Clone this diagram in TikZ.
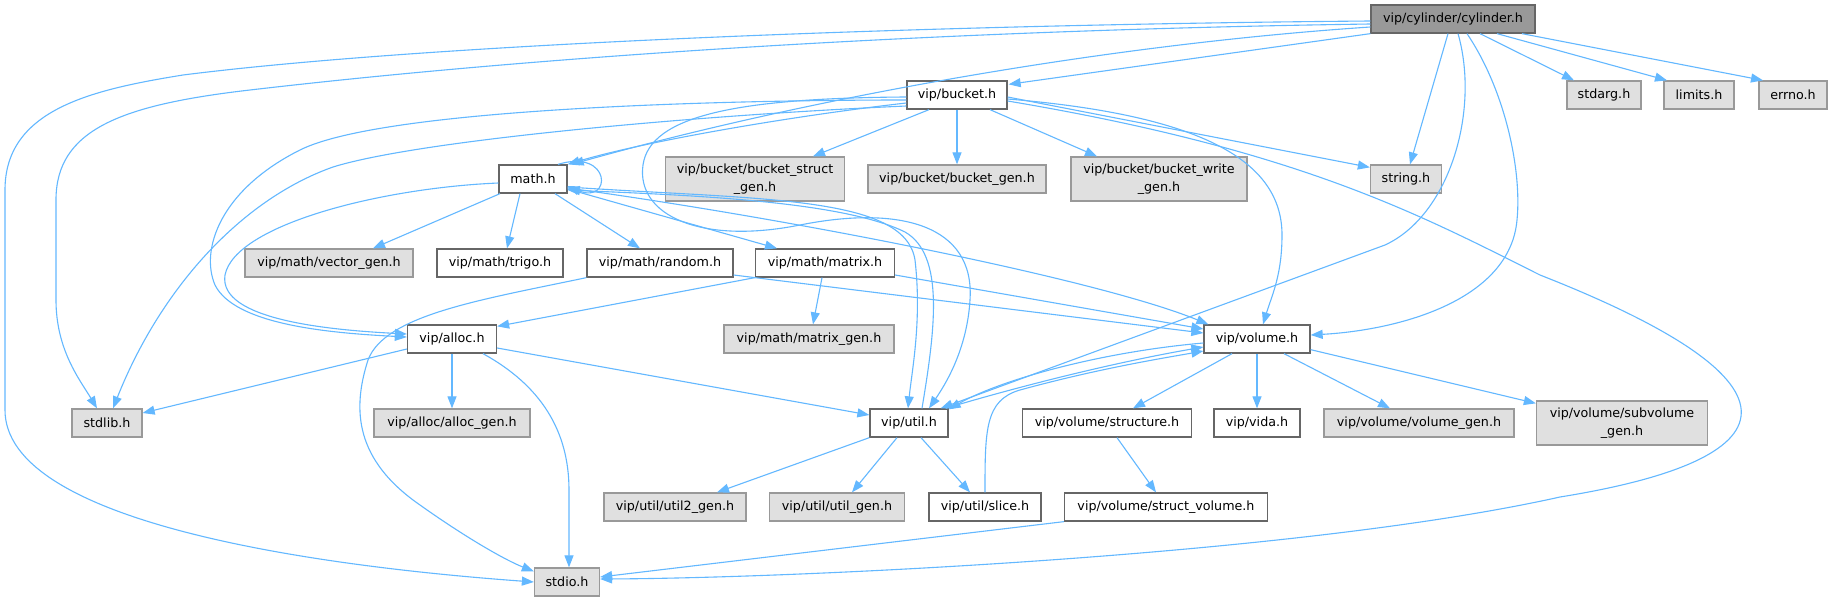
\documentclass[tikz,border=0pt]{standalone}
\usepackage{fontspec}
\setmainfont{DejaVu Sans}
\usetikzlibrary{arrows.meta}
\definecolor{edgecol}{HTML}{63B8FF}
\definecolor{bordA}{HTML}{666666}
\definecolor{bordB}{HTML}{999999}
\definecolor{fillB}{HTML}{E0E0E0}
\definecolor{fillR}{HTML}{999999}
\begin{document}
\begin{tikzpicture}[x=1pt,y=-1pt,
  box/.style={rectangle, inner sep=0pt, minimum height=28pt, line width=1.3pt, font=\fontsize{12.7}{17.5}\selectfont, align=center},
  wbox/.style={box, draw=bordA, fill=white},
  gbox/.style={box, draw=bordB, fill=fillB},
  rbox/.style={box, draw=bordA, fill=fillR},
  edge/.style={draw=edgecol, line width=1.1pt, -{Triangle[length=12pt,width=9pt]}}
]
\fill[white] (0,0) rectangle (1832,602);
\useasboundingbox (0,0) rectangle (1832,602);

\node[rbox, minimum width=164pt] (cyl) at (1453,19) {vip/cylinder/cylinder.h};
\node[wbox, minimum width=100pt] (bucket) at (957,95) {vip/bucket.h};
\node[gbox, minimum width=74pt] (stdarg) at (1604,95) {stdarg.h};
\node[gbox, minimum width=70pt] (limits) at (1699,95) {limits.h};
\node[gbox, minimum width=68pt] (errno) at (1793,95) {errno.h};
\node[wbox, minimum width=68pt] (math) at (533,179) {math.h};
\node[gbox, minimum width=179pt, minimum height=44pt] (bstruct) at (755,179) {vip/bucket/bucket\_struct\\\_gen.h};
\node[gbox, minimum width=178pt] (bgen) at (957,179) {vip/bucket/bucket\_gen.h};
\node[gbox, minimum width=176pt, minimum height=44pt] (bwrite) at (1159,179) {vip/bucket/bucket\_write\\\_gen.h};
\node[gbox, minimum width=71pt] (string) at (1406,179) {string.h};
\node[gbox, minimum width=168pt] (vecgen) at (329,263) {vip/math/vector\_gen.h};
\node[wbox, minimum width=126pt] (trigo) at (500,263) {vip/math/trigo.h};
\node[wbox, minimum width=146pt] (random) at (660,263) {vip/math/random.h};
\node[wbox, minimum width=139pt] (matrix) at (825,263) {vip/math/matrix.h};
\node[wbox, minimum width=89pt] (alloc) at (452,339) {vip/alloc.h};
\node[gbox, minimum width=170pt] (matgen) at (809,339) {vip/math/matrix\_gen.h};
\node[wbox, minimum width=106pt] (volume) at (1257,339) {vip/volume.h};
\node[gbox, minimum width=70pt] (stdlib) at (107,423) {stdlib.h};
\node[gbox, minimum width=156pt] (allocgen) at (452,423) {vip/alloc/alloc\_gen.h};
\node[wbox, minimum width=78pt] (util) at (909,423) {vip/util.h};
\node[wbox, minimum width=169pt] (structure) at (1107,423) {vip/volume/structure.h};
\node[wbox, minimum width=86pt] (vida) at (1257,423) {vip/vida.h};
\node[gbox, minimum width=190pt] (volgen) at (1419,423) {vip/volume/volume\_gen.h};
\node[gbox, minimum width=171pt, minimum height=44pt] (subvol) at (1622,423) {vip/volume/subvolume\\\_gen.h};
\node[gbox, minimum width=142pt] (util2gen) at (675,507) {vip/util/util2\_gen.h};
\node[gbox, minimum width=135pt] (utilgen) at (837,507) {vip/util/util\_gen.h};
\node[wbox, minimum width=112pt] (slice) at (985,507) {vip/util/slice.h};
\node[wbox, minimum width=203pt] (structvol) at (1166,507) {vip/volume/struct\_volume.h};
\node[gbox, minimum width=65pt] (stdio) at (567,582) {stdio.h};

% cylinder.h
\draw[edge] (cyl.south west) -- ([xshift=1pt,yshift=-4pt]bucket.north east);
\draw[edge] ([yshift=-8pt]cyl.west) .. controls (1100,45) and (800,100) .. ([xshift=4pt]math.north east);
\draw[edge] ([yshift=-2pt]cyl.west) .. controls (900,25) and (420,45) .. (183,75) .. controls (90,90) and (5,110) .. (5,190) -- (5,410) .. controls (5,520) and (300,565) .. (stdio.west);
\draw[edge] ([yshift=-5pt]cyl.west) .. controls (950,30) and (550,55) .. (250,90) .. controls (120,105) and (56,130) .. (56,200) -- (56,300) .. controls (56,350) and (80,380) .. ([xshift=-10pt]stdlib.north);
\draw[edge] ([xshift=-5pt]cyl.south) -- ([xshift=4pt]string.north);
\draw[edge] ([xshift=5pt]cyl.south) .. controls (1480,110) and (1450,215) .. (1385,245) -- ([xshift=-8pt]util.north east);
\draw[edge] ([xshift=14pt]cyl.south) .. controls (1505,90) and (1522,170) .. (1517,220) .. controls (1510,300) and (1400,330) .. ([yshift=4pt]volume.east);
\draw[edge] ([xshift=27pt]cyl.south) -- ([xshift=-30pt]stdarg.north);
\draw[edge] ([xshift=44pt]cyl.south) -- ([xshift=-32pt]limits.north);
\draw[edge] ([xshift=69pt]cyl.south) -- ([xshift=-30pt]errno.north);

% bucket.h
\draw[edge] ([yshift=-8pt]bucket.west) .. controls (800,115) and (650,140) .. (math.north east);
\draw[edge] ([yshift=-11pt]bucket.west) .. controls (700,115) and (420,140) .. (333,167) .. controls (240,200) and (160,290) .. ([xshift=6pt]stdlib.north);
\draw[edge] ([yshift=-5pt]bucket.west) .. controls (700,100) and (380,110) .. (300,150) .. controls (220,190) and (200,250) .. (215,285) .. controls (235,325) and (330,333) .. ([yshift=2pt]alloc.west);
\draw[edge] ([yshift=-2pt]bucket.west) .. controls (740,98) and (650,115) .. (643,165) .. controls (636,215) and (700,245) .. (800,225) .. controls (900,205) and (975,225) .. (970,300) .. controls (967,350) and (945,385) .. ([xshift=20pt]util.north);
\draw[edge] ([xshift=-28pt]bucket.south) -- ([xshift=58pt]bstruct.north);
\draw[edge] (bucket.south) -- (bgen.north);
\draw[edge] ([xshift=33pt]bucket.south) -- ([xshift=-62pt]bwrite.north);
\draw[edge] ([yshift=-2pt]bucket.east) -- ([yshift=-3pt]string.north west);
\draw[edge] ([yshift=-4pt]bucket.east) .. controls (1200,115) and (1282,160) .. (1282,235) .. controls (1282,275) and (1272,295) .. ([xshift=6pt]volume.north);
\draw[edge] ([yshift=-6pt]bucket.east) .. controls (1300,150) and (1420,215) .. (1540,275) .. controls (1820,385) and (1790,460) .. (1560,497) .. controls (1300,555) and (800,578) .. ([yshift=3pt]stdio.east);

% math.h
\draw[edge] ([xshift=25pt]math.north) .. controls (612,148) and (612,205) .. ([yshift=-7pt]math.east);
\draw[edge] ([xshift=-33pt]math.south) -- ([xshift=44pt]vecgen.north);
\draw[edge] ([xshift=-13pt]math.south) -- ([xshift=7pt]trigo.north);
\draw[edge] ([xshift=22pt]math.south) -- ([xshift=-20pt]random.north);
\draw[edge] ([yshift=-10pt]math.east) -- ([xshift=-48pt]matrix.north);
\draw[edge] ([yshift=-4pt]math.west) .. controls (380,188) and (235,225) .. (225,275) .. controls (218,320) and (330,330) .. ([yshift=5pt]alloc.west);
\draw[edge] ([yshift=-8pt]math.east) .. controls (760,200) and (905,195) .. (915,260) .. controls (922,320) and (912,370) .. ([xshift=-1pt]util.north);
\draw[edge] ([yshift=-9pt]math.east) .. controls (800,220) and (1100,280) .. ([xshift=5pt]volume.north west);

% util.h -> math.h
\draw[edge] ([xshift=13pt]util.north) .. controls (935,330) and (945,255) .. (905,232) .. controls (840,200) and (680,195) .. ([yshift=-11pt]math.east);

% random.h, matrix.h
\draw[edge] (random.south west) .. controls (480,300) and (385,315) .. (368,360) .. controls (352,410) and (355,460) .. (420,505) .. controls (465,537) and (505,560) .. ([yshift=-4pt]stdio.north west);
\draw[edge] ([yshift=-12pt]random.east) -- ([yshift=6pt]volume.west);
\draw[edge] ([yshift=-12pt]matrix.east) -- ([yshift=10pt]volume.west);
\draw[edge] (matrix.south west) -- ([yshift=-2pt]alloc.north east);
\draw[edge] ([xshift=-3pt]matrix.south) -- ([xshift=4pt]matgen.north);

% alloc.h
\draw[edge] ([yshift=-10pt]alloc.west) -- ([yshift=10pt]stdlib.east);
\draw[edge] (alloc.south) -- (allocgen.north);
\draw[edge] ([yshift=-9pt]alloc.east) -- ([yshift=8pt]util.west);
\draw[edge] ([xshift=31pt]alloc.south) .. controls (540,385) and (569,430) .. (569,490) -- ([xshift=2pt]stdio.north);

% volume.h
\draw[edge] ([xshift=-25pt]volume.south) -- ([xshift=26pt]structure.north);
\draw[edge] (volume.south) -- (vida.north);
\draw[edge] ([xshift=27pt]volume.south) -- ([xshift=-29pt]volgen.north);
\draw[edge] ([yshift=4pt]volume.south east) -- ([yshift=-3pt]subvol.north west);
\draw[edge] ([yshift=-4pt]volume.west) .. controls (1100,352) and (1000,380) .. ([yshift=-1pt]util.north east);
\draw[edge] ([xshift=-3pt]util.north east) .. controls (1000,392) and (1100,365) .. ([yshift=-8pt]volume.west);

% structure / struct_volume
\draw[edge] ([xshift=10pt]structure.south) -- ([xshift=-10pt]structvol.north);
\draw[edge] (structvol.south west) -- ([yshift=5pt]stdio.east);

% util.h
\draw[edge] (util.south west) -- ([xshift=42pt]util2gen.north);
\draw[edge] ([xshift=-12pt]util.south) -- ([xshift=15pt]utilgen.north);
\draw[edge] ([xshift=12pt]util.south) -- ([xshift=-15pt]slice.north);
\draw[edge] (slice.north) .. controls (985,430) and (985,400) .. (1020,390) .. controls (1100,368) and (1170,357) .. ([yshift=-12pt]volume.west);
\end{tikzpicture}
\end{document}
